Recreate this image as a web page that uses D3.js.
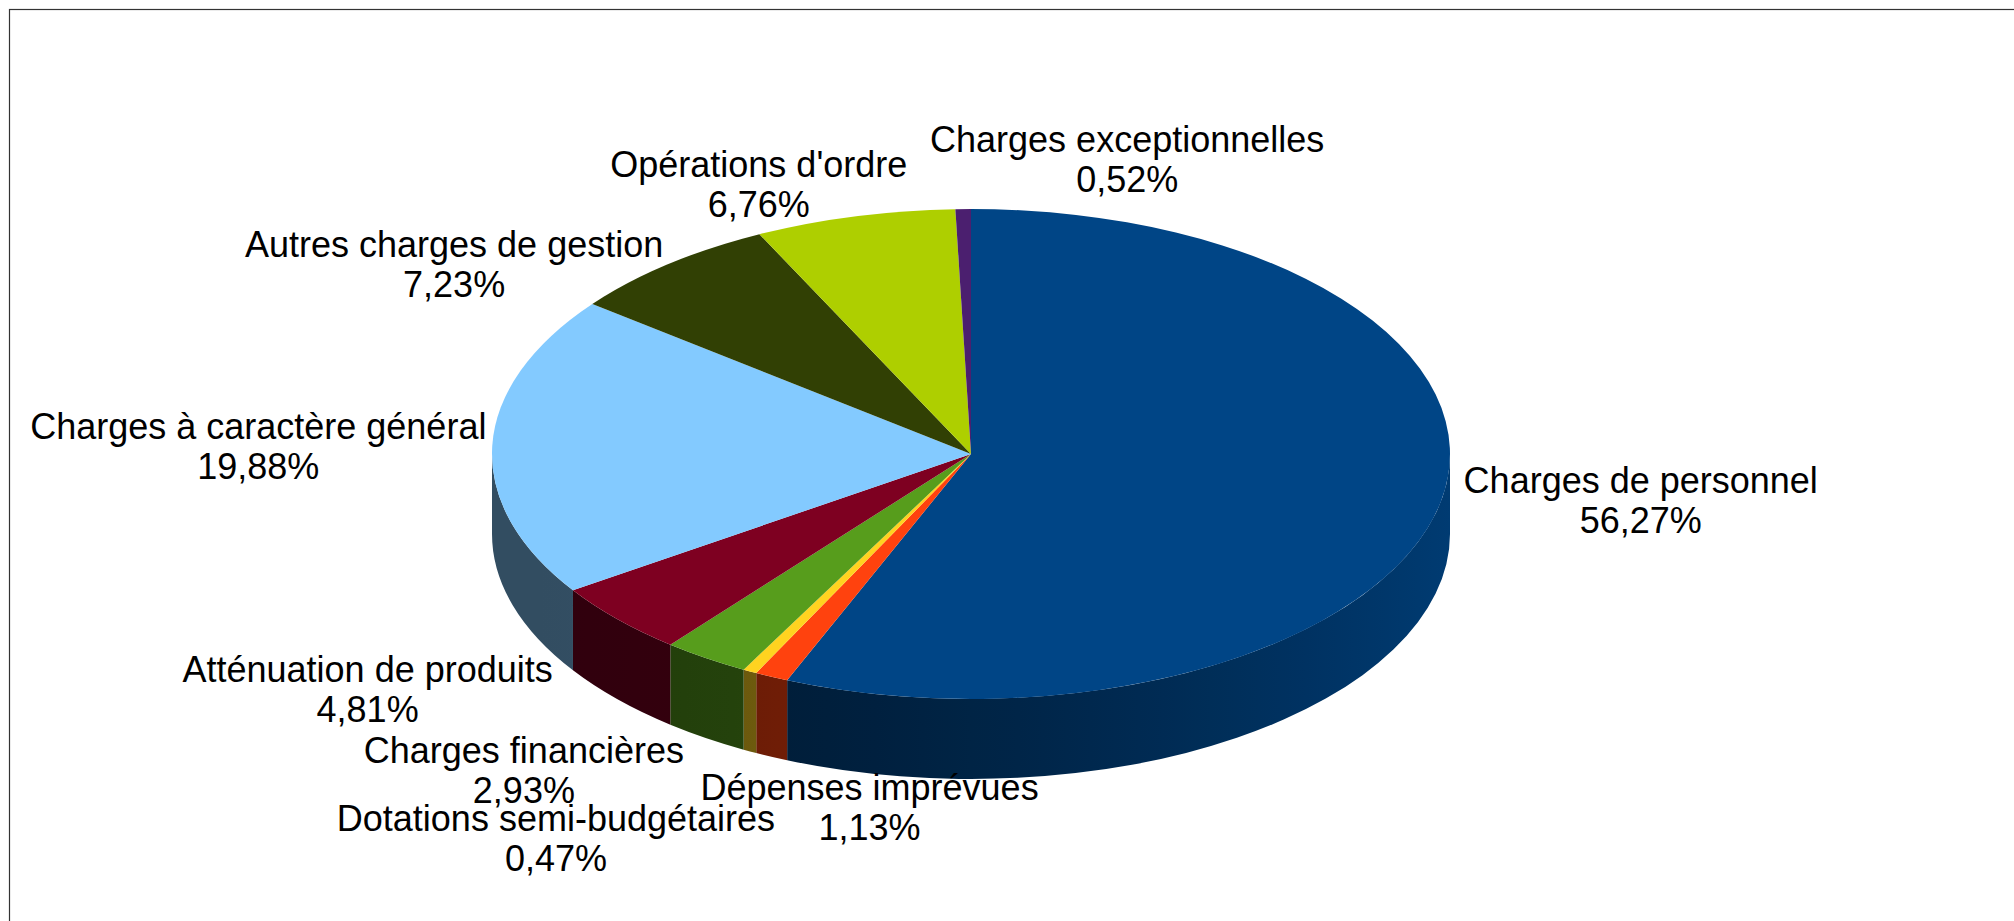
<!DOCTYPE html>
<html lang="fr">
<head>
  <meta charset="UTF-8">
  <title>Répartition des charges</title>
  <script src="https://d3js.org/d3.v7.min.js"></script>
  <style>
    body { margin: 0; background: #fff; }
    svg { display: block; }
    .lbl { font-family: "Liberation Sans", Arial, sans-serif; font-size: 36px; fill: #000; }
  </style>
</head>
<body>
<svg width="2014" height="921"></svg>

<script>
  // data, clockwise from 12 o'clock
  const categories = [
    "Charges de personnel",
    "Dépenses imprévues",
    "Dotations semi-budgétaires",
    "Charges financières",
    "Atténuation de produits",
    "Charges à caractère général",
    "Autres charges de gestion",
    "Opérations d'ordre",
    "Charges exceptionnelles"
  ];
  const shares = [56.27, 1.13, 0.47, 2.93, 4.81, 19.88, 7.23, 6.76, 0.52];
  const colors = ["#004586", "#ff420e", "#ffd320", "#579d1c", "#7e0021",
                  "#83caff", "#314004", "#aecf00", "#4b1f6f"];

  // label nudges from the slice's mid point on the rim
  const labelNudge = [[200, -9], [98, 123], [-194, 160], [-182, 105], [-250, 63],
                      [-234, -7], [-214, -7], [-96, -39], [164, -57]];

  const W = 2014, H = 921;
  const cx = 971, cy = 454, rx = 479, ry = 245, depth = 80;

  const svg = d3.select("svg");
  const defs = svg.append("defs");

  const fr = d3.formatLocale({decimal: ",", thousands: " ", grouping: [3], currency: ["", " €"]});
  const fmt = fr.format(".2f");

  svg.append("rect")
          .attr("x", 9.5).attr("y", 9.5)
          .attr("width", W).attr("height", H)
          .attr("fill", "none")
          .attr("stroke", "#333")
          .attr("stroke-width", 1.2);

  const arcs = d3.pie().sort(null).value(d => d)(shares);

  // point on the rim, angle 0 = top, clockwise
  function rim(a, dy) {
    return [cx + rx * Math.sin(a), cy - ry * Math.cos(a) + (dy || 0)];
  }

  // side shading: dark at left, lighter towards the right
  function shade(base, t) {
    const f = 0.38 + 0.47 * Math.pow((t + 1) / 2, 1.8);
    const c = d3.rgb(base);
    return d3.rgb(c.r * f, c.g * f, c.b * f).formatHex();
  }

  // front sides
  const sides = svg.append("g").attr("class", "sides");
  arcs.forEach((d, i) => {
    const b0 = Math.max(d.startAngle, Math.PI / 2);
    const b1 = Math.min(d.endAngle, Math.PI * 1.5);
    if (b1 <= b0) return;

    const gid = "side" + i;
    const g = defs.append("linearGradient")
            .attr("id", gid)
            .attr("gradientUnits", "userSpaceOnUse")
            .attr("x1", cx - rx).attr("x2", cx + rx)
            .attr("y1", 0).attr("y2", 0);
    d3.range(0, 1.0001, 0.05).forEach(o => {
      g.append("stop").attr("offset", o).attr("stop-color", shade(colors[i], o * 2 - 1));
    });

    const p0 = rim(b0), p1 = rim(b1), q1 = rim(b1, depth), q0 = rim(b0, depth);
    const large = (b1 - b0) > Math.PI ? 1 : 0;
    const p = d3.path();
    p.moveTo(p0[0], p0[1]);
    const dpath = `M${p0}A${rx},${ry} 0 ${large} 1 ${p1}L${q1}A${rx},${ry} 0 ${large} 0 ${q0}Z`;
    sides.append("path")
            .attr("d", dpath)
            .attr("fill", `url(#${gid})`);
  });

  // top faces
  const arcGen = d3.arc().innerRadius(0).outerRadius(rx);
  svg.append("g")
          .attr("transform", `translate(${cx},${cy}) scale(1,${ry / rx})`)
          .selectAll("path")
          .data(arcs)
          .enter()
          .append("path")
          .attr("d", arcGen)
          .attr("fill", (d, i) => colors[i]);

  // labels
  const labels = svg.append("g");
  arcs.forEach((d, i) => {
    const mid = (d.startAngle + d.endAngle) / 2;
    const a = rim(mid);
    const x = a[0] + labelNudge[i][0];
    const y = a[1] + labelNudge[i][1];
    const t = labels.append("text")
            .attr("class", "lbl")
            .attr("text-anchor", "middle")
            .attr("x", x).attr("y", y);
    t.append("tspan").attr("x", x).text(categories[i]);
    t.append("tspan").attr("x", x).attr("dy", 40).text(fmt(shares[i]) + "%");
  });
</script>
</body>
</html>
